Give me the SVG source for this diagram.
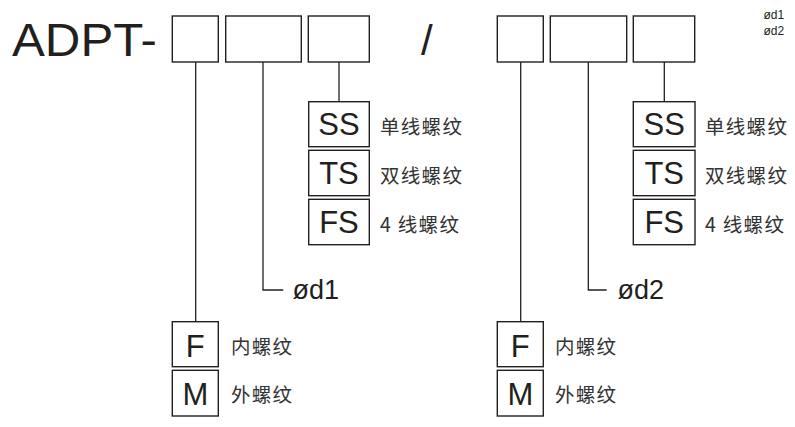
<svg xmlns="http://www.w3.org/2000/svg" width="795" height="427" viewBox="0 0 795 427">
<style>
.box{fill:none;stroke:#231f20;stroke-width:1.4}
.ln{fill:none;stroke:#231f20;stroke-width:1.3}
.t{font-family:"Liberation Sans",Arial,sans-serif;fill:#231f20}
.code{font-family:"Liberation Sans",Arial,sans-serif;fill:#231f20;font-size:31px;text-anchor:middle}
.cn{font-family:"Noto Sans CJK SC","Noto Sans",sans-serif;fill:#333;font-size:19.5px;letter-spacing:1.3px;dominant-baseline:central}
</style>
<rect width="795" height="427" fill="#fff"/>
<g id="title">
<text class="t" x="12" y="56" font-size="46" textLength="145" lengthAdjust="spacingAndGlyphs">ADPT-</text>
<text class="t" x="421" y="55" font-size="42">/</text>
<text class="t" x="763.5" y="18.5" font-size="12">ød1</text>
<text class="t" x="763.5" y="34.5" font-size="12">ød2</text>
</g>
<g id="slots">
<rect class="box" x="172.3" y="16" width="46" height="46"/>
<rect class="box" x="225.7" y="16" width="75.6" height="46"/>
<rect class="box" x="308.3" y="16" width="61" height="46"/>
<rect class="box" x="497.3" y="16" width="46" height="46"/>
<rect class="box" x="550.3" y="16" width="76.4" height="46"/>
<rect class="box" x="633.3" y="16" width="61.4" height="46"/>
</g>
<g id="connectors">
<path class="ln" d="M195.7 62V321.7"/>
<path class="ln" d="M263 62V290H283.3"/>
<path class="ln" d="M339 62V101.7"/>
<path class="ln" d="M520.7 62V321.7"/>
<path class="ln" d="M588.3 62V290H606.7"/>
<path class="ln" d="M664.3 62V101.7"/>
</g>
<g id="thread-left">
<rect class="box" x="308.7" y="101.7" width="60.6" height="45"/>
<text class="code" x="339" y="135">SS</text>
<text class="cn" x="380" y="125.5">单线螺纹</text>
<rect class="box" x="308.7" y="150.3" width="60.6" height="45.4"/>
<text class="code" x="339" y="184">TS</text>
<text class="cn" x="380" y="174">双线螺纹</text>
<rect class="box" x="308.7" y="199.3" width="60.6" height="45.4"/>
<text class="code" x="339" y="233">FS</text>
<text class="cn" x="380" y="223">4 线螺纹</text>
</g>
<g id="d1">
<text class="t" x="292.5" y="298.5" font-size="27">ød1</text>
</g>
<g id="type-left">
<rect class="box" x="172.3" y="321.7" width="46" height="45"/>
<text class="code" x="195.3" y="356.5" font-size="28">F</text>
<text class="cn" x="231" y="345">内螺纹</text>
<rect class="box" x="172.3" y="370.3" width="46" height="45.7"/>
<text class="code" x="195.3" y="405" font-size="28">M</text>
<text class="cn" x="231" y="393.5">外螺纹</text>
</g>
<g id="thread-right">
<rect class="box" x="633.3" y="101.7" width="61.7" height="45"/>
<text class="code" x="664.2" y="135">SS</text>
<text class="cn" x="705" y="125.5">单线螺纹</text>
<rect class="box" x="633.3" y="150.3" width="61.7" height="45.4"/>
<text class="code" x="664.2" y="184">TS</text>
<text class="cn" x="705" y="174">双线螺纹</text>
<rect class="box" x="633.3" y="199.3" width="61.7" height="45.4"/>
<text class="code" x="664.2" y="233">FS</text>
<text class="cn" x="705" y="223">4 线螺纹</text>
</g>
<g id="d2">
<text class="t" x="617.5" y="298.5" font-size="27">ød2</text>
</g>
<g id="type-right">
<rect class="box" x="497.3" y="321.7" width="46" height="45"/>
<text class="code" x="520.3" y="356.5" font-size="28">F</text>
<text class="cn" x="555" y="345">内螺纹</text>
<rect class="box" x="497.3" y="370.3" width="46" height="45.7"/>
<text class="code" x="520.3" y="405" font-size="28">M</text>
<text class="cn" x="555" y="393.5">外螺纹</text>
</g>
</svg>
